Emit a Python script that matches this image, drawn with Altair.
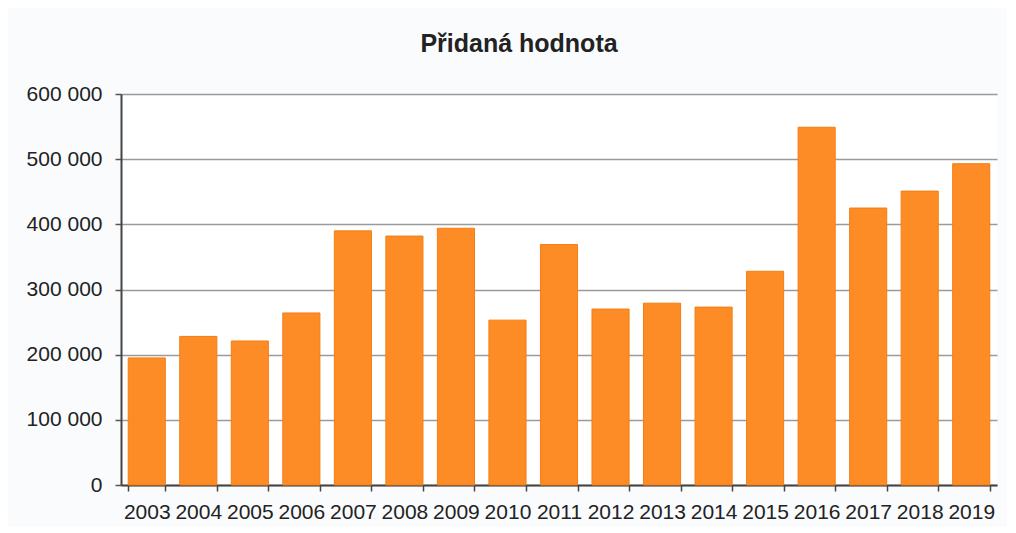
import altair as alt
import pandas as pd

years = [str(y) for y in range(2003, 2020)]
values = [195000, 228000, 221000, 264000, 390000, 382000, 394000, 253000,
          369000, 270000, 279000, 273000, 328000, 549000, 425000, 451000, 493000]

df = pd.DataFrame({"rok": years, "hodnota": values})

chart = alt.Chart(df).mark_bar(color="#fd8c26", stroke="#f47d12", strokeWidth=1).encode(
    x=alt.X("rok:N", sort=years, title=None,
            scale=alt.Scale(paddingInner=0.28, paddingOuter=0.14),
            axis=alt.Axis(labelAngle=0, tickBand="extent", grid=False,
                          labelFont="Liberation Sans", labelFontSize=21,
                          labelColor="#222222", labelPadding=10, tickSize=6,
                          tickColor="#444444", tickWidth=1.5,
                          domainColor="#444444", domainWidth=2)),
    y=alt.Y("hodnota:Q", title=None,
            scale=alt.Scale(domain=[0, 600000], nice=False),
            axis=alt.Axis(values=[0, 100000, 200000, 300000, 400000, 500000, 600000],
                          labelExpr="replace(format(datum.value, ','), ',', ' ')",
                          labelFont="Liberation Sans", labelFontSize=21,
                          labelColor="#222222", labelPadding=13, tickSize=6,
                          tickColor="#555555", tickWidth=1.5,
                          domainColor="#444444", domainWidth=2,
                          gridColor="#9a9a9a", gridWidth=1.5)),
).properties(
    width=876,
    height=391,
    title=alt.TitleParams("Přidaná hodnota", font="Liberation Sans", fontSize=25,
                          fontWeight="bold", color="#222222", offset=26, dx=-40),
    background="#fafbfd",
    padding={"left": 18, "top": 24, "right": 10, "bottom": 5},
).configure_view(stroke=None, fill="#ffffff")

chart.save("out.html", embed_options={"renderer": "svg", "actions": False})
